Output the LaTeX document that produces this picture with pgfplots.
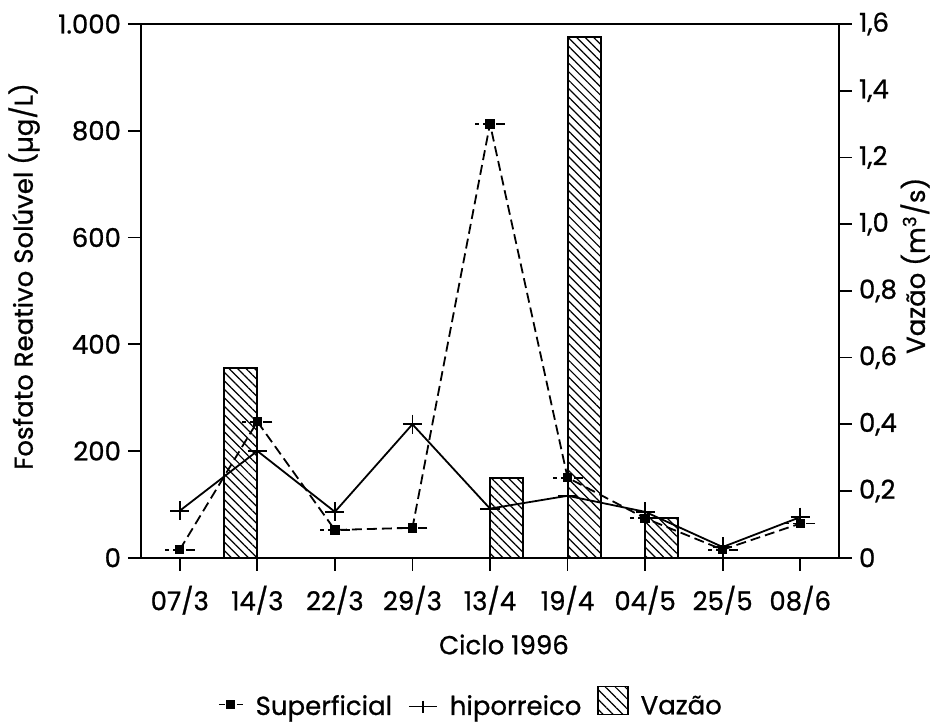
\documentclass[border=0pt]{standalone}
\usepackage{fontspec}
\setmainfont{Poppins}[FakeBold=0.8]
\usepackage{pgfplots}
\pgfplotsset{compat=1.18}
\usetikzlibrary{patterns.meta}
\pgfplotsset{
  supleg/.style={legend image code/.code={\draw[##1,solid,mark=none] (-1pt,1pt)--(2pt,1pt) (8pt,1pt)--(11pt,1pt); \draw[##1] plot coordinates {(5pt,1pt)};}},
  hipleg/.style={legend image code/.code={\draw[mark repeat=2,mark phase=2,##1,mark size=3pt] plot coordinates {(0pt,0pt)(7pt,0pt)(14pt,0pt)};}},
  vazleg/.style={legend image code/.code={\draw[##1] (0pt,-4pt) rectangle (15pt,10pt);}},
}
\begin{document}
\begin{tikzpicture}[font=\fontsize{13}{15.6}\selectfont]
\pgfplotsset{
  base/.style={
    scale only axis, width=349pt, height=266.85pt,
    xmin=-0.5, xmax=8.5,
    tick align=outside, major tick length=6.5pt,
    every tick/.style={black, line width=0.9pt},
    axis line style={line width=1.1pt},
    /pgf/number format/assume math mode=true,
    tick label style={font=\fontsize{13}{15.6}\selectfont},
    label style={font=\fontsize{13}{15.6}\selectfont},
  }
}
\begin{axis}[base, ymin=0, ymax=1.6, hide x axis, axis y line*=right,
  ytick={0,0.2,0.4,0.6,0.8,1.0,1.2,1.4,1.6},
  yticklabels={0,{0,2},{0,4},{0,6},{0,8},{1,0},{1,2},{1,4},{1,6}},
  ylabel={Vazão (m\textsuperscript{3}/s)},
  ylabel style={at={(axis description cs:1.109,0.547)}, anchor=center},
]
\addplot[ybar, bar width=0.43, bar shift=0pt, draw=black, line width=1pt,
  pattern={Lines[angle=-45,distance=3pt,line width=0.6pt]}]
  coordinates {(0.785,0.57) (4.215,0.24) (5.215,1.56) (6.215,0.12)};
\end{axis}
\begin{axis}[base, ymin=0, ymax=1000,
  ytick={0,200,400,600,800,1000},
  yticklabels={0,200,400,600,800,1.000},
  ytick pos=left,
  xtick={0,1,2,3,4,5,6,7,8},
  xticklabels={07/3,14/3,22/3,29/3,13/4,19/4,04/5,25/5,08/6},
  xtick pos=left,
  xticklabel style={yshift=-4pt},
  xlabel={Ciclo 1996},
  xlabel style={at={(axis description cs:0.52,-0.1626)}, anchor=center},
  ylabel={Fosfato Reativo Solúvel (µg/L)},
  ylabel style={at={(axis description cs:-0.1676,0.527)}, anchor=center},
  legend style={at={(axis description cs:0.474,-0.274)}, anchor=center,
    draw=none, fill=none, legend columns=3,
    font=\fontsize{13}{15.6}\selectfont,
    /tikz/every odd column/.append style={column sep=4pt},
    /tikz/every even column/.append style={column sep=6pt}},
]
\addplot[black, line width=0.9pt, dash pattern=on 5pt off 2.5pt,
  mark=square*, mark size=1.9pt, mark options={solid}, supleg]
  coordinates {(0,15) (1,255) (2,52) (3,56) (4,813) (5,150) (6,74) (7,15) (8,64)};
\addlegendentry{Superficial}
\addplot[black, line width=0.9pt, dash pattern=on 4.5pt off 2pt, only marks,
  mark=-, mark size=7.5pt, forget plot]
  coordinates {(0,15) (1,255) (2,52) (3,56) (4,813) (5,150) (6,74) (7,15) (8,64)};
\addplot[black, line width=0.9pt, mark=+, mark size=4.8pt, hipleg]
  coordinates {(0,88) (1,200) (2,86) (3,250) (4,92) (5,116) (6,86) (7,20) (8,76)};
\addlegendentry{hiporreico}
\addlegendimage{area legend, draw=black, line width=0.9pt,
  pattern={Lines[angle=-45,distance=3.5pt,line width=0.6pt]}, vazleg}
\addlegendentry{Vazão}
\end{axis}
\pgfresetboundingbox
\path[use as bounding box] (-70.5pt,-83.65pt) rectangle (398pt,278.85pt);
\end{tikzpicture}
\end{document}
